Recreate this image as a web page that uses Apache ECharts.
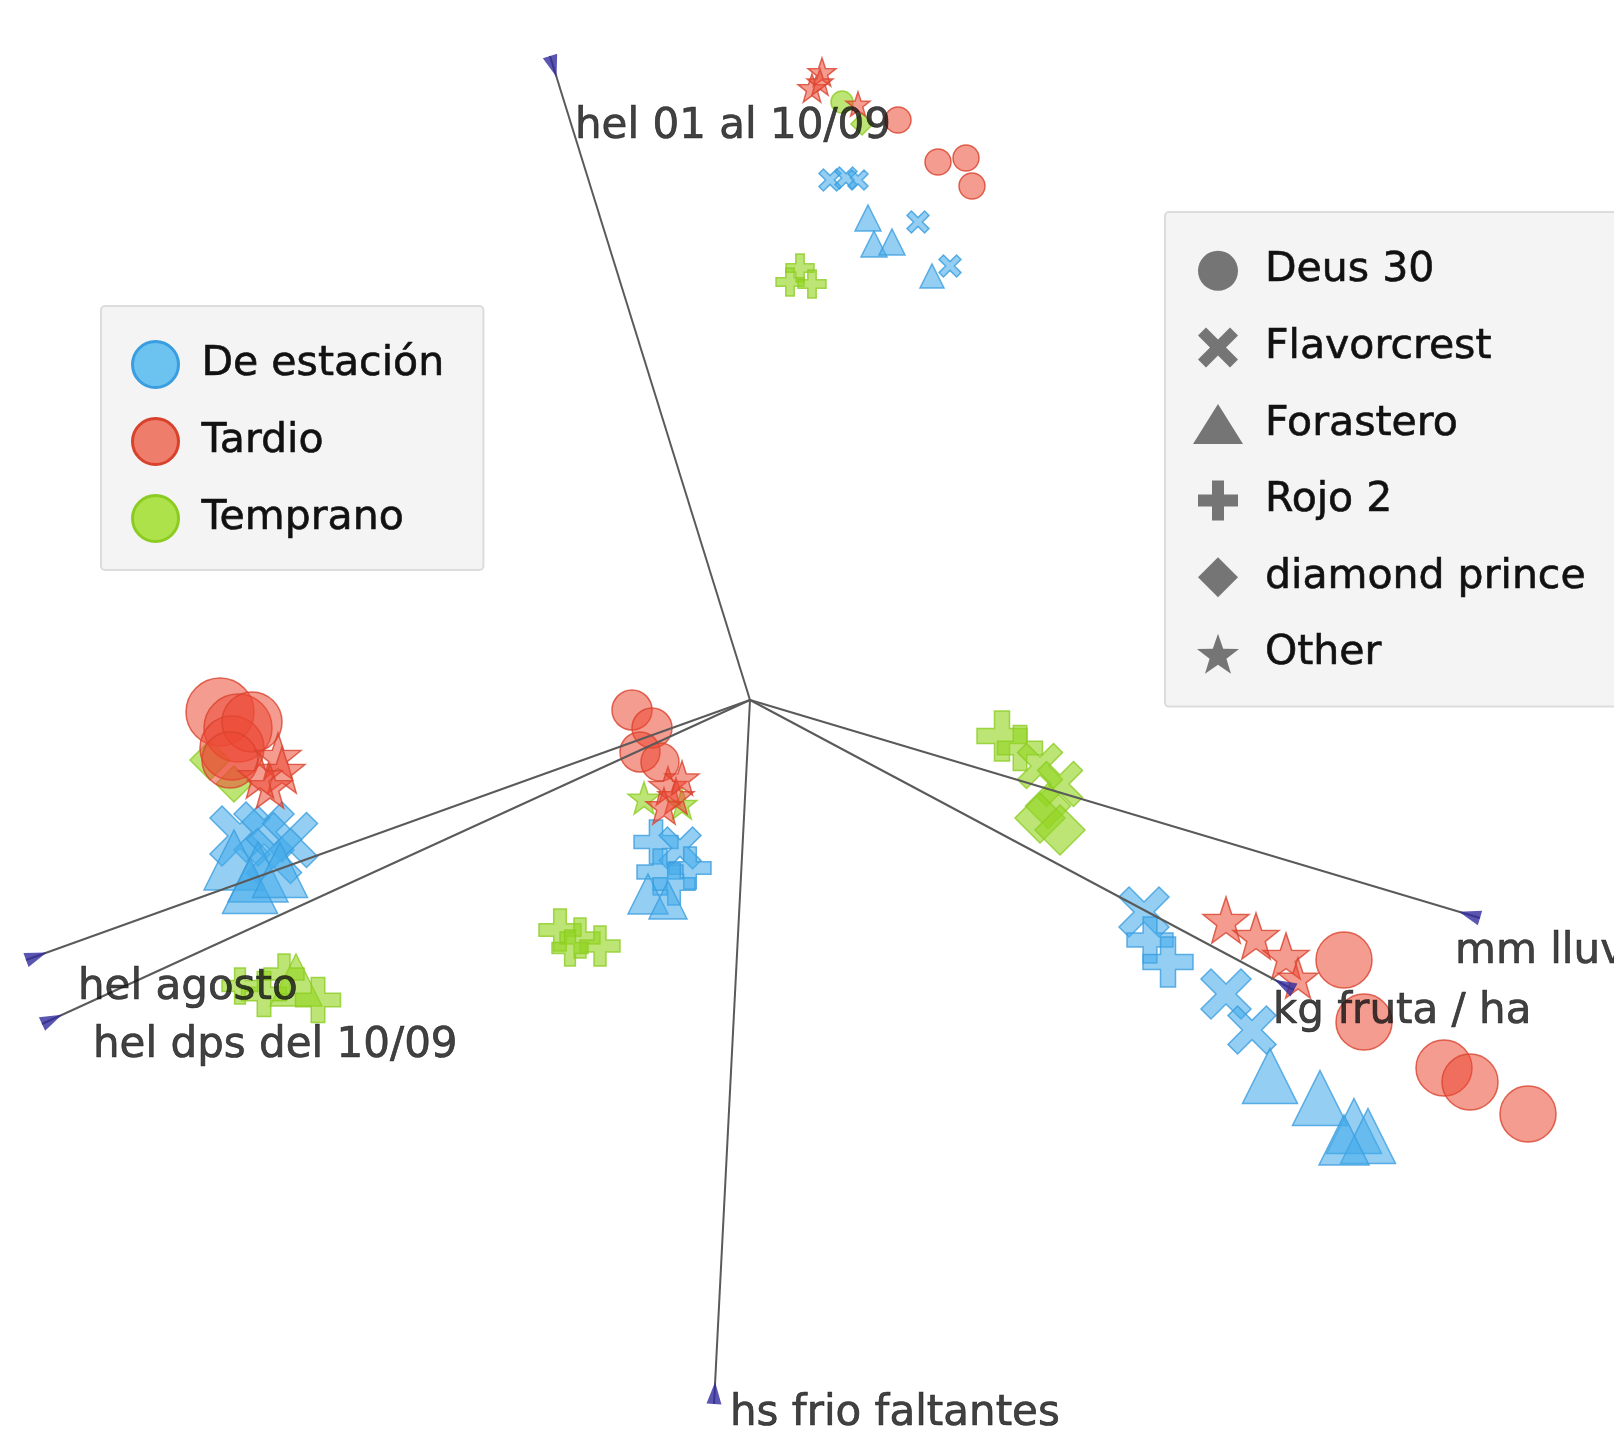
<!DOCTYPE html>
<html>
<head>
<meta charset="utf-8">
<title>Biplot variedades</title>
<script src="https://cdn.jsdelivr.net/npm/echarts@6/dist/echarts.min.js"></script>
<style>
  html, body { margin: 0; padding: 0; background: #ffffff; }
  #chart { width: 1614px; height: 1432px; }
</style>
</head>
<body>
<div id="chart"></div>
<script>
// Variables (loadings) of the biplot
const variables = ['hel 01 al 10/09', 'mm lluvia', 'kg fruta / ha', 'hel agosto', 'hel dps del 10/09', 'hs frio faltantes'];
const varX = [-1.00, 3.65, 2.72, -3.62, -3.54, -0.18];
const varY = [3.22, -1.09, -1.45, -1.30, -1.62, -3.52];

// Groups (colour) and varieties (shape)
const groups = ['De estación', 'Tardio', 'Temprano'];
const varieties = ['Deus 30', 'Flavorcrest', 'Forastero', 'Rojo 2', 'diamond prince', 'Other'];

// Observations: [variety, CP1, CP2, weight]
const deEstacion = [
  ['Flavorcrest', 0.40, 2.60, 2.2], ['Flavorcrest', 0.48, 2.61, 2.2], ['Flavorcrest', 0.54, 2.60, 2.0],
  ['Forastero', 0.59, 2.41, 2.6], ['Forastero', 0.62, 2.28, 2.6], ['Forastero', 0.71, 2.29, 2.6],
  ['Flavorcrest', 0.84, 2.39, 2.2], ['Forastero', 0.91, 2.12, 2.4], ['Flavorcrest', 1.00, 2.17, 2.2],
  ['Flavorcrest', -2.55, -0.68, 6.0], ['Flavorcrest', -2.43, -0.66, 6.0], ['Flavorcrest', -2.30, -0.70, 5.5],
  ['Flavorcrest', -2.38, -0.78, 5.5], ['Forastero', -2.58, -0.80, 6.0], ['Forastero', -2.46, -0.86, 6.0],
  ['Forastero', -2.50, -0.93, 5.5], ['Forastero', -2.35, -0.85, 5.5],
  ['Rojo 2', -0.47, -0.71, 4.4], ['Flavorcrest', -0.35, -0.74, 4.2], ['Rojo 2', -0.30, -0.84, 4.2],
  ['Rojo 2', -0.45, -0.86, 4.6], ['Rojo 2', -0.38, -0.92, 4.2], ['Forastero', -0.51, -0.97, 4.0],
  ['Forastero', -0.41, -1.00, 3.8],
  ['Flavorcrest', 1.97, -1.06, 5.0], ['Rojo 2', 2.00, -1.20, 4.6], ['Rojo 2', 2.09, -1.31, 5.0],
  ['Flavorcrest', 2.38, -1.47, 5.0], ['Flavorcrest', 2.51, -1.65, 4.8],
  ['Forastero', 2.60, -1.88, 5.5], ['Forastero', 2.85, -1.99, 5.5], ['Forastero', 3.02, -2.13, 5.5],
  ['Forastero', 3.09, -2.18, 5.5], ['Forastero', 2.97, -2.20, 5.0]
];
const tardio = [
  ['Other', 0.36, 3.14, 2.8], ['Other', 0.31, 3.06, 2.8], ['Other', 0.35, 3.09, 2.6], ['Other', 0.54, 2.98, 2.4],
  ['Deus 30', 0.74, 2.90, 2.6], ['Deus 30', 0.94, 2.69, 2.6], ['Deus 30', 1.08, 2.71, 2.6], ['Deus 30', 1.11, 2.57, 2.6],
  ['Deus 30', -2.65, -0.06, 6.8], ['Deus 30', -2.56, -0.14, 6.8], ['Deus 30', -2.59, -0.24, 6.4],
  ['Deus 30', -2.49, -0.11, 6.0], ['Deus 30', -2.60, -0.30, 5.6],
  ['Other', -2.36, -0.28, 4.6], ['Other', -2.34, -0.35, 4.6], ['Other', -2.40, -0.43, 4.4], ['Other', -2.45, -0.38, 4.4],
  ['Deus 30', -0.59, -0.05, 4.0], ['Deus 30', -0.49, -0.14, 4.0], ['Deus 30', -0.55, -0.26, 4.0], ['Deus 30', -0.45, -0.31, 3.8],
  ['Other', -0.41, -0.43, 3.8], ['Other', -0.37, -0.48, 3.6], ['Other', -0.43, -0.53, 3.6], ['Other', -0.34, -0.39, 3.4],
  ['Other', 2.38, -1.10, 4.6], ['Other', 2.53, -1.18, 4.6], ['Other', 2.68, -1.28, 4.6], ['Other', 2.74, -1.39, 4.0],
  ['Deus 30', 2.97, -1.30, 5.6], ['Deus 30', 3.07, -1.61, 5.6], ['Deus 30', 3.47, -1.84, 5.6],
  ['Deus 30', 3.60, -1.91, 5.6], ['Deus 30', 3.89, -2.07, 5.6]
];
const temprano = [
  ['Deus 30', 0.46, 2.99, 2.2], ['diamond prince', 0.56, 2.88, 2.2],
  ['Rojo 2', 0.25, 2.16, 2.8], ['Rojo 2', 0.20, 2.09, 2.8], ['Rojo 2', 0.31, 2.08, 2.8],
  ['diamond prince', -2.70, -0.30, 4.0], ['diamond prince', -2.58, -0.42, 3.6],
  ['Other', -0.53, -0.49, 3.2], ['Other', -0.34, -0.52, 3.0],
  ['Rojo 2', -0.95, -1.15, 4.2], ['Rojo 2', -0.85, -1.19, 4.0], ['Rojo 2', -0.75, -1.23, 4.0], ['Rojo 2', -0.90, -1.24, 3.6],
  ['Forastero', -2.27, -1.40, 5.2], ['Rojo 2', -2.43, -1.47, 4.5], ['Rojo 2', -2.16, -1.50, 4.5],
  ['Rojo 2', -2.33, -1.37, 4.0], ['Rojo 2', -2.55, -1.43, 3.6],
  ['Rojo 2', 1.26, -0.18, 5.0], ['Rojo 2', 1.35, -0.24, 4.5], ['Flavorcrest', 1.45, -0.33, 4.5], ['Flavorcrest', 1.55, -0.42, 4.5],
  ['diamond prince', 1.49, -0.53, 4.5], ['diamond prince', 1.45, -0.59, 5.0], ['diamond prince', 1.55, -0.65, 5.0]
];

// Marker shapes per variety
const STAR = 'path://M50,0L61.76,33.82L97.55,34.55L69.02,56.18L79.39,90.45L50,70L20.61,90.45L30.98,56.18L2.45,34.55L38.24,33.82Z';
const CROSS = 'path://M20,0L50,30L80,0L100,20L70,50L100,80L80,100L50,70L20,100L0,80L30,50L0,20Z';
const PLUS = 'path://M35,0H65V35H100V65H65V100H35V65H0V35H35Z';
const TRI = 'path://M0,80L50,0L100,80Z';
const DIAMOND = 'path://M50,0L100,50L50,100L0,50Z';
const shapeOf = {
  'Deus 30': 'circle',
  'Flavorcrest': CROSS,
  'Forastero': 'triangle',
  'Rojo 2': PLUS,
  'diamond prince': 'diamond',
  'Other': STAR
};
// Legend icons keep their proportions inside the icon box
const legendIconOf = {
  'Deus 30': 'circle',
  'Flavorcrest': CROSS,
  'Forastero': TRI,
  'Rojo 2': PLUS,
  'diamond prince': DIAMOND,
  'Other': STAR
};

const groupStyle = {
  'De estación': { fill: 'rgba(70,172,234,0.72)', border: '#3a9ddf', legendFill: '#6cc3f0' },
  'Tardio':      { fill: 'rgba(236,72,52,0.68)',  border: '#d8422d', legendFill: '#ef7d6b' },
  'Temprano':    { fill: 'rgba(148,214,36,0.78)', border: '#8ccc22', legendFill: '#aee24a' }
};
const groupData = { 'De estación': deEstacion, 'Tardio': tardio, 'Temprano': temprano };

// Label placement (pixels) relative to each arrow tip
const labelOffset = {
  'hel 01 al 10/09': [25, 71],
  'mm lluvia': [-25, 34],
  'kg fruta / ha': [-21, 22],
  'hel agosto': [52, 28],
  'hel dps del 10/09': [51, 22],
  'hs frio faltantes': [16, 10]
};

const FONT = 'DejaVu Sans';
const INK = '#111111';

function toPoints(rows) {
  return rows.map(r => ({ value: [r[1], r[2], r[3]], name: r[0], symbol: shapeOf[r[0]] }));
}

// Group series: green drawn first, red on top
const drawOrder = ['Temprano', 'De estación', 'Tardio'];
const groupSeries = drawOrder.map(g => ({
  name: g,
  type: 'scatter',
  z: 2,
  data: toPoints(groupData[g]),
  symbolSize: v => v[2] * 10,
  itemStyle: { color: groupStyle[g].fill, borderColor: groupStyle[g].border, borderWidth: 1.5 },
  emphasis: { disabled: true }
}));

// Empty series that only feed the shape legend
const shapeSeries = varieties.map(v => ({
  name: v, type: 'scatter', data: [], itemStyle: { color: '#555555' }
}));

// Loading vectors
const lineSeries = {
  name: 'vectores',
  type: 'lines',
  coordinateSystem: 'cartesian2d',
  z: 5,
  silent: true,
  lineStyle: { color: '#5a5a5a', width: 2, opacity: 1 },
  data: variables.map((n, i) => ({ coords: [[0, 0], [varX[i], varY[i]]] }))
};

const HEAD = 0.055;
const headSeries = {
  name: 'puntas',
  type: 'scatter',
  z: 6,
  silent: true,
  symbol: 'path://M0,0L10,0L5,10Z',
  symbolSize: [15, 22],
  itemStyle: { color: '#2f2b9e' },
  data: variables.map((n, i) => {
    const len = Math.hypot(varX[i], varY[i]);
    const ang = Math.atan2(varY[i], varX[i]) * 180 / Math.PI;
    return {
      value: [varX[i] - varX[i] / len * HEAD, varY[i] - varY[i] / len * HEAD],
      symbolRotate: ang - 90
    };
  })
};

const labelSeries = {
  name: 'variables',
  type: 'scatter',
  z: 7,
  silent: true,
  symbolSize: 0,
  itemStyle: { color: 'rgba(0,0,0,0)' },
  data: variables.map((n, i) => ({
    name: n,
    value: [varX[i], varY[i]],
    label: {
      show: true,
      formatter: n,
      position: labelOffset[n],
      align: 'left',
      verticalAlign: 'middle',
      fontFamily: FONT,
      fontSize: 42,
      color: INK,
      textBorderColor: INK,
      textBorderWidth: 0.7
    }
  }))
};

const legendText = { fontFamily: FONT, fontSize: 41, color: INK, textBorderColor: INK, textBorderWidth: 0.6 };

const option = {
  backgroundColor: '#ffffff',
  animation: false,
  grid: { left: 0, right: 0, top: 0, bottom: 0 },
  xAxis: { type: 'value', min: -3.75, max: 4.32, show: false },
  yAxis: { type: 'value', min: -3.66, max: 3.50, show: false },
  legend: [
    {
      orient: 'vertical',
      left: 101,
      top: 306,
      padding: [34, 39, 27, 30],
      itemWidth: 82,
      itemHeight: 46,
      itemGap: 28,
      backgroundColor: '#f4f4f4',
      borderColor: '#dcdcdc',
      borderWidth: 2,
      borderRadius: 4,
      textStyle: legendText,
      data: groups.map(g => ({
        name: g,
        icon: 'circle',
        itemStyle: { color: groupStyle[g].legendFill, borderColor: groupStyle[g].border, borderWidth: 3, opacity: 1 }
      }))
    },
    {
      orient: 'vertical',
      left: 1165,
      top: 212,
      padding: [38, 60, 32, 28],
      itemWidth: 84,
      itemHeight: 40,
      itemGap: 35,
      backgroundColor: '#f4f4f4',
      borderColor: '#dcdcdc',
      borderWidth: 2,
      borderRadius: 4,
      textStyle: legendText,
      data: varieties.map(v => ({
        name: v,
        icon: legendIconOf[v],
        itemStyle: { color: '#555555', borderWidth: 0 }
      }))
    }
  ],
  series: groupSeries.concat(shapeSeries, [lineSeries, headSeries, labelSeries])
};

const chart = echarts.init(document.getElementById('chart'), null, { renderer: 'canvas' });
chart.setOption(option);
</script>
</body>
</html>
